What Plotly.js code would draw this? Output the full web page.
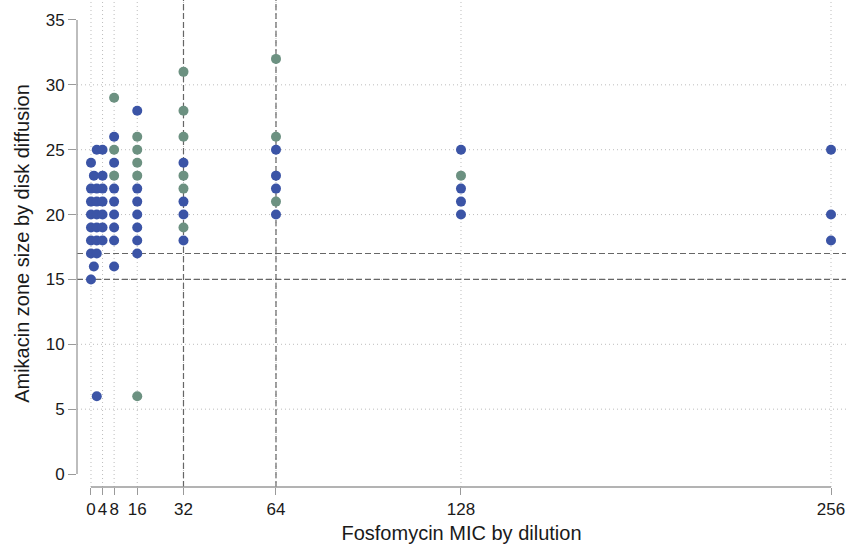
<!DOCTYPE html>
<html>
<head>
<meta charset="utf-8">
<script src="https://cdn.plot.ly/plotly-3.0.1.min.js"></script>
<style>html,body{margin:0;padding:0;background:#fff;}#chart{width:846px;height:544px;}</style>
</head>
<body>
<div id="chart"></div>
<script>
// Fosfomycin MIC (x) and Amikacin zone size (y), two groups
var blueMIC  = [0,0,0,0,0,0,0,0, 1,1, 2,2,2,2,2,2,2,2, 4,4,4,4,4,4,4, 8,8,8,8,8,8,8,8, 16,16,16,16,16,16,16, 32,32,32,32, 64,64,64,64, 128,128,128,128, 256,256,256];
var blueZone = [24,22,21,20,19,18,17,15, 23,16, 25,22,21,20,19,18,17,6, 25,23,22,21,20,19,18, 26,24,22,21,20,19,18,16, 28,22,21,20,19,18,17, 24,21,20,18, 25,23,22,20, 25,22,21,20, 25,20,18];
var greenMIC  = [8,8,8, 16,16,16,16,16, 32,32,32,32,32,32, 64,64,64, 128];
var greenZone = [29,25,23, 26,25,24,23,6, 31,28,26,23,22,19, 32,26,21, 23];

var xTicks = [0,4,8,16,32,64,128,256];
var yTicks = [0,5,10,15,20,25,30,35];
var yGrid  = [5,10,15,20,25,30];
var vRefs  = [32,64];
var hRefs  = [15,17];

var blue = '#3b54a6', green = '#6c9181';
var gridCol = '#bdbdbd', refCol = '#666666', axCol = '#9a9a9a';

var traces = [
  {type:'scatter', mode:'markers', x:blueMIC, y:blueZone, marker:{color:blue, size:10, line:{width:0}}, hoverinfo:'x+y'},
  {type:'scatter', mode:'markers', x:greenMIC, y:greenZone, marker:{color:green, size:10, line:{width:0}}, hoverinfo:'x+y'}
];

var shapes = [];
xTicks.forEach(function(v){
  shapes.push({type:'line', layer:'below', xref:'x', yref:'paper', x0:v, x1:v, y0:0, y1:1, line:{color:gridCol, width:1, dash:'1px,3px'}});
});
yGrid.forEach(function(v){
  shapes.push({type:'line', layer:'below', xref:'paper', yref:'y', x0:0, x1:1, y0:v, y1:v, line:{color:gridCol, width:1, dash:'1px,3px'}});
});
vRefs.forEach(function(v){
  shapes.push({type:'line', layer:'below', xref:'x', yref:'paper', x0:v, x1:v, y0:0, y1:1, line:{color:refCol, width:1.2, dash:'6px,3px'}});
});
hRefs.forEach(function(v){
  shapes.push({type:'line', layer:'below', xref:'paper', yref:'y', x0:0, x1:1, y0:v, y1:v, line:{color:refCol, width:1.2, dash:'6px,3px'}});
});
// axis lines spanning only the tick range
shapes.push({type:'line', layer:'above', xref:'paper', yref:'y', x0:0, x1:0, y0:yTicks[0], y1:yTicks[yTicks.length-1], line:{color:axCol, width:1.3}});
shapes.push({type:'line', layer:'above', xref:'x', yref:'paper', x0:xTicks[0], x1:xTicks[xTicks.length-1], y0:0, y1:0, line:{color:axCol, width:1.3}});

var font = {family:'Liberation Sans, Arial, Helvetica, sans-serif', color:'#1a1a1a'};

var layout = {
  width:846, height:544,
  margin:{l:77, r:0, t:0, b:57, pad:0},
  paper_bgcolor:'#fff', plot_bgcolor:'#fff',
  showlegend:false,
  font:font,
  xaxis:{
    range:[-4.84, 261.19], tickvals:xTicks, ticktext:xTicks.map(String),
    showgrid:false, zeroline:false, showline:false,
    ticks:'outside', ticklen:7, tickwidth:1, tickcolor:axCol,
    tickfont:{size:17, family:font.family, color:'#1a1a1a'},
    title:{text:'Fosfomycin MIC by dilution', font:{size:20, family:font.family, color:'#1a1a1a'}, standoff:12},
    automargin:false, fixedrange:true
  },
  yaxis:{
    range:[-1.0, 36.54], tickvals:yTicks, ticktext:yTicks.map(String),
    showgrid:false, zeroline:false, showline:false,
    ticks:'outside', ticklen:8, tickwidth:1, tickcolor:axCol,
    tickfont:{size:17, family:font.family, color:'#1a1a1a'},
    title:{text:'Amikacin zone size by disk diffusion', font:{size:20, family:font.family, color:'#1a1a1a'}, standoff:10},
    automargin:false, fixedrange:true
  },
  shapes:shapes
};

Plotly.newPlot('chart', traces, layout, {displayModeBar:false, staticPlot:true});
</script>
</body>
</html>
